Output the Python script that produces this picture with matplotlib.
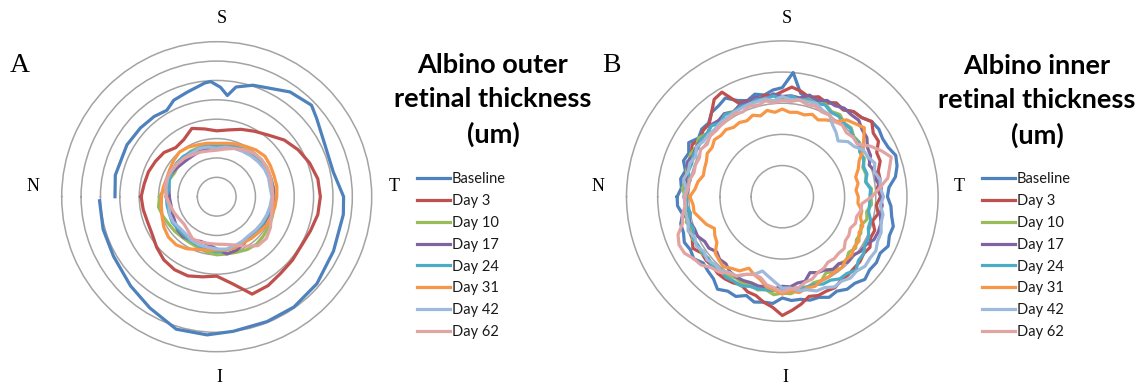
import matplotlib.pyplot as plt
import numpy as np

plt.rcParams['font.family'] = ['Lato', 'DejaVu Sans']

# series names and colours (Excel 2010 palette)
labels = ['Baseline', 'Day 3', 'Day 10', 'Day 17', 'Day 24', 'Day 31', 'Day 42', 'Day 62']
colors = ['#4F81BD', '#C0504D', '#9BBB59', '#8064A2', '#4BACC6', '#F79646', '#9DB9DC', '#E2A4A2']
ring_grey = '#a3a3a3'

# angles in degrees: 0 = nasal, clockwise -> 90 superior, 180 temporal, 270 inferior
angles_a = np.arange(0, 360, 10)
angles_b = np.arange(0, 360, 5)

# ---- outer retinal thickness (um) ----
base_a_angles = [0, 12, 30, 42, 52, 60, 66, 74, 84, 87, 92, 96, 100, 108, 115, 125, 136,
                 142, 154, 168, 180, 188, 205, 221, 235, 248, 263, 274, 287, 301, 314, 330, 344, 358]
base_a = [105, 107, 107, 106, 105, 103, 109, 112, 118, 119, 113, 105, 115, 121, 124, 132, 136,
          131, 124, 123, 131, 132, 133, 137, 139, 139, 140, 143, 143, 134, 128, 123, 122, 121]
day3_a = [78, 76, 75, 73, 71, 66, 68, 75, 71, 68, 70, 74, 78, 83, 91, 97, 102, 106,
          107, 106, 103, 101, 102, 103, 106, 107, 91, 82, 84, 87, 87, 85, 81, 77, 76, 77]
day10_a = [59, 54, 52, 50, 52, 53, 54, 54, 53, 53, 54, 55, 57, 59, 60, 60, 59, 59,
           59, 60, 61, 62, 63, 64, 63, 61, 60, 60, 58, 56, 55, 55, 56, 57, 59, 61]
day17_a = [49, 50, 53, 52, 50, 49, 49, 50, 50, 52, 53, 54, 55, 56, 57, 58, 58, 59,
           59, 58, 57, 56, 54, 53, 56, 59, 60, 54, 50, 49, 52, 54, 53, 50, 49, 48]
day24_a = [52, 50, 52, 53, 54, 54, 53, 53, 54, 53, 54, 55, 56, 57, 58, 58, 59, 58,
           58, 57, 56, 55, 54, 53, 54, 55, 56, 57, 55, 54, 53, 52, 52, 53, 52, 52]
day31_a = [57, 56, 55, 56, 58, 60, 59, 57, 56, 55, 56, 58, 60, 63, 65, 64, 63, 63,
           62, 61, 60, 59, 57, 56, 55, 56, 56, 55, 56, 58, 62, 65, 65, 63, 60, 58]
day42_a = [52, 53, 54, 54, 53, 52, 52, 53, 52, 50, 52, 53, 54, 55, 56, 57, 57, 56,
           57, 56, 55, 54, 53, 52, 53, 54, 55, 54, 53, 53, 52, 50, 50, 52, 52, 50]
day62_a = [52, 54, 55, 54, 53, 52, 50, 49, 48, 48, 50, 53, 56, 59, 60, 60, 59, 58,
           58, 58, 60, 64, 67, 66, 59, 53, 50, 49, 49, 50, 50, 46, 44, 45, 47, 49]

# ---- inner retinal thickness (um) ----
base_b = [108, 104, 106, 103, 108, 106, 111, 105, 108, 107, 113, 114,
          117, 109, 105, 109, 106, 110, 112, 128, 108, 104, 109, 106,
          111, 109, 114, 115, 120, 121, 119, 120, 124, 122, 118, 110,
          108, 112, 114, 118, 117, 120, 116, 118, 117, 120, 116, 116,
          112, 114, 110, 110, 107, 107, 104, 110, 110, 112, 108, 113,
          112, 116, 110, 108, 106, 111, 109, 111, 108, 108, 104, 108]
day3_b = [101, 97, 103, 101, 102, 103, 107, 103, 106, 106, 113, 122,
          124, 106, 105, 101, 106, 104, 108, 113, 110, 106, 109, 107,
          111, 109, 114, 115, 120, 114, 114, 107, 107, 102, 102, 98,
          101, 97, 100, 96, 101, 100, 104, 102, 104, 104, 105, 105,
          108, 107, 108, 106, 112, 117, 122, 114, 110, 105, 104, 100,
          102, 103, 103, 101, 102, 101, 106, 102, 102, 99, 103, 99]
day10_b = [100, 103, 99, 102, 102, 104, 102, 105, 101, 103, 100, 104,
           101, 103, 102, 104, 102, 105, 101, 103, 101, 104, 102, 105,
           101, 103, 99, 100, 96, 97, 92, 93, 88, 89, 87, 92,
           91, 92, 88, 90, 86, 89, 88, 92, 89, 93, 90, 94,
           90, 95, 94, 97, 97, 100, 99, 101, 97, 99, 96, 98,
           96, 99, 98, 100, 99, 101, 100, 102, 98, 102, 99, 100]
day17_b = [99, 97, 101, 100, 104, 101, 102, 102, 100, 104, 102, 104,
           100, 104, 104, 106, 102, 106, 103, 104, 103, 108, 105, 109,
           108, 111, 110, 111, 107, 106, 101, 100, 95, 99, 98, 102,
           101, 103, 102, 105, 105, 104, 99, 98, 94, 95, 90, 91,
           87, 86, 83, 90, 90, 93, 92, 95, 94, 95, 94, 95,
           95, 94, 90, 91, 88, 92, 92, 96, 96, 99, 96, 100]
day24_b = [98, 100, 96, 100, 99, 101, 100, 102, 101, 103, 99, 103,
           100, 102, 101, 103, 102, 104, 100, 104, 101, 103, 102, 104,
           100, 101, 98, 99, 95, 96, 92, 92, 89, 90, 87, 91,
           90, 90, 90, 94, 94, 98, 98, 102, 102, 107, 103, 103,
           99, 99, 96, 96, 95, 95, 94, 97, 97, 98, 98, 101,
           100, 101, 98, 102, 99, 100, 100, 101, 97, 100, 96, 99]
day31_b = [95, 90, 88, 84, 85, 86, 89, 88, 91, 89, 90, 87,
           88, 86, 89, 86, 90, 87, 90, 87, 88, 87, 90, 87,
           91, 94, 103, 106, 110, 102, 96, 87, 83, 78, 79, 76,
           78, 78, 83, 83, 88, 87, 91, 90, 93, 92, 95, 94,
           95, 95, 98, 97, 100, 97, 100, 96, 94, 88, 85, 81,
           88, 90, 94, 92, 90, 82, 80, 77, 83, 87, 92, 92]
day42_b = [101, 99, 103, 100, 101, 98, 102, 99, 99, 98, 99, 99,
           100, 100, 101, 101, 102, 99, 103, 100, 101, 101, 102, 98,
           97, 90, 86, 81, 88, 90, 96, 97, 101, 98, 102, 101,
           104, 101, 105, 105, 108, 108, 111, 110, 111, 108, 109, 106,
           107, 103, 103, 99, 98, 94, 94, 88, 83, 79, 85, 88,
           94, 95, 99, 98, 101, 98, 102, 99, 103, 100, 101, 100]
day62_b = [100, 97, 97, 94, 95, 94, 97, 94, 97, 96, 97, 97,
           98, 96, 99, 97, 100, 97, 99, 98, 101, 98, 99, 96,
           97, 94, 96, 93, 95, 94, 104, 112, 119, 114, 110, 100,
           92, 82, 82, 79, 80, 77, 79, 79, 83, 82, 83, 82,
           85, 86, 90, 91, 95, 95, 98, 94, 92, 86, 85, 88,
           94, 96, 101, 103, 109, 111, 116, 117, 114, 106, 104, 100]

rings_a = [20, 40, 60, 80, 100, 120, 140]
rmax_a = 160
rings_b = [32, 64, 96, 128]
rmax_b = 160


# set up an empty radar with grey rings and no spokes
def setup_radar(ax, rings, rmax):
    ax.set_theta_zero_location('W')
    ax.set_theta_direction(-1)
    ax.set_ylim(0, rmax)
    ax.set_xticks([])
    ax.set_yticks(rings)
    ax.set_yticklabels([])
    ax.yaxis.grid(True, color=ring_grey, linewidth=1.1)
    ax.spines['polar'].set_color(ring_grey)
    ax.spines['polar'].set_linewidth(1.1)
    ax.set_facecolor('none')


def closed(angles, values):
    theta = np.deg2rad(np.append(angles, 360))
    return theta, np.append(values, values[0])


def draw_panel(ax, series, angles, colors):
    lines = []
    for vals, c in zip(series, colors):
        theta, r = closed(angles, vals)
        line, = ax.plot(theta, r, color=c, lw=2.3, solid_joinstyle='round', clip_on=False)
        lines.append(line)
    return lines


def add_compass(fig, cx, cy):
    serif = dict(family='Liberation Serif', fontsize=13, ha='center', va='center')
    fig.text(cx + 5 / 1137, cy + 178 / 390, 'S', **serif)
    fig.text(cx + 3 / 1137, cy - 181 / 390, 'I', **serif)
    fig.text(cx - 184 / 1137, cy + 10 / 390, 'N', **serif)
    fig.text(cx + 177 / 1137, cy + 10 / 390, 'T', **serif)


def main():
    fig = plt.figure(figsize=(11.37, 3.9), dpi=100)

    # panel A: outer retina
    ax_a = fig.add_axes([61.7 / 1137, 38.3 / 390, 310 / 1137, 310 / 390], projection='polar')
    setup_radar(ax_a, rings_a, rmax_a)
    line_base, = ax_a.plot(np.deg2rad(base_a_angles), base_a, color=colors[0], lw=2.3,
                           solid_joinstyle='round', clip_on=False)
    lines_a = [line_base] + draw_panel(
        ax_a, [day3_a, day10_a, day17_a, day24_a, day31_a, day42_a, day62_a], angles_a, colors[1:])

    # panel B: inner retina
    ax_b = fig.add_axes([626.5 / 1137, 37.5 / 390, 311.6 / 1137, 311.6 / 390], projection='polar')
    setup_radar(ax_b, rings_b, rmax_b)
    lines_b = draw_panel(ax_b, [base_b, day3_b, day10_b, day17_b, day24_b, day31_b, day42_b, day62_b],
                         angles_b, colors)

    add_compass(fig, 216.7 / 1137, 1 - 196.7 / 390)
    add_compass(fig, 782.3 / 1137, 1 - 196.7 / 390)
    fig.text(20 / 1137, 1 - 66 / 390, 'A', family='Liberation Serif', fontsize=20, ha='center', va='center')
    fig.text(611 / 1137, 1 - 66 / 390, 'B', family='Liberation Serif', fontsize=20, ha='center', va='center')

    title_kw = dict(fontsize=19.5, fontweight='bold', ha='center', va='center', linespacing=1.5)
    fig.text(493 / 1137, 1 - 100 / 390, 'Albino outer\nretinal thickness\n(um)', **title_kw)
    fig.text(1037 / 1137, 1 - 101 / 390, 'Albino inner\nretinal thickness\n(um)', **title_kw)

    leg_kw = dict(loc='upper left', bbox_transform=fig.transFigure, frameon=False, fontsize=10.5,
                  handlelength=2.25, handletextpad=0.15, labelspacing=0.54, borderpad=0,
                  borderaxespad=0, labelcolor='#1a1a1a')
    ax_a.legend(lines_a, labels, bbox_to_anchor=(417 / 1137, 1 - 172 / 390), **leg_kw)
    ax_b.legend(lines_b, labels, bbox_to_anchor=(982 / 1137, 1 - 172 / 390), **leg_kw)

    fig.savefig('out.png', dpi=100)


if __name__ == '__main__':
    main()
